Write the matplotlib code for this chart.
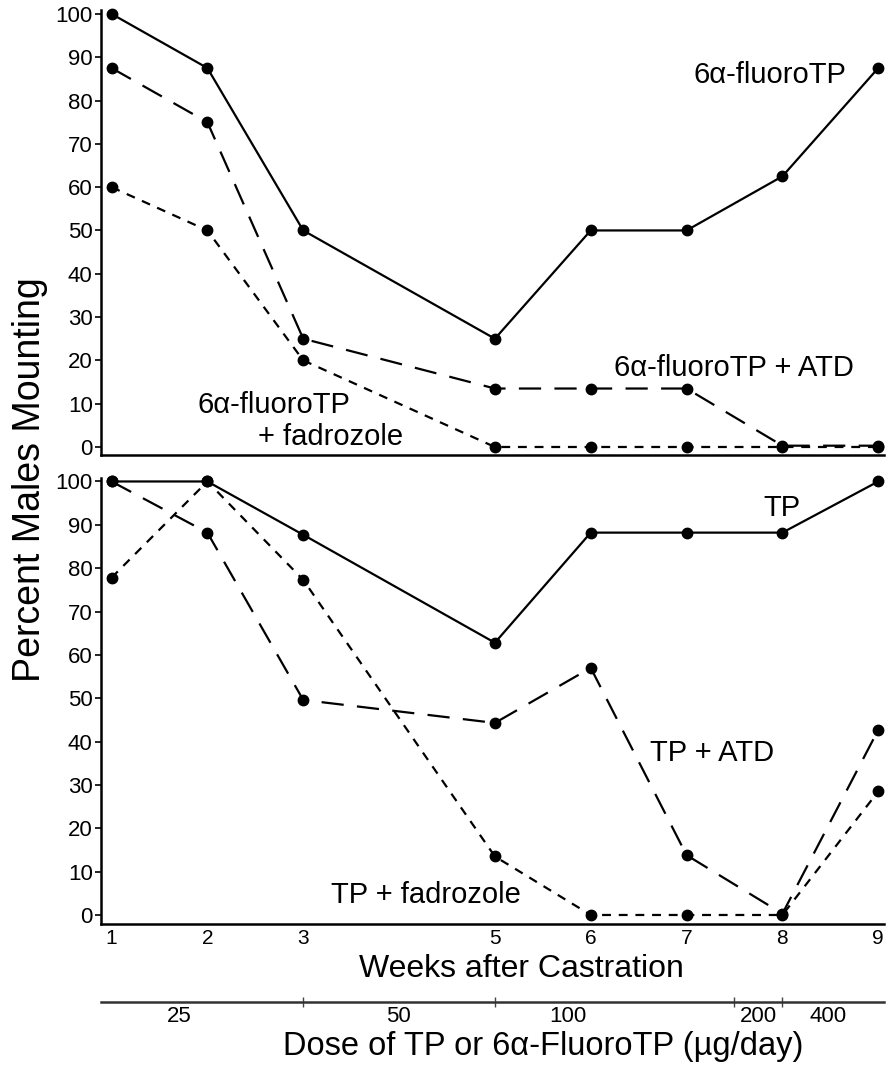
'''
plot.py redraws the mounting vs. weeks-after-castration figure
'''
import matplotlib
matplotlib.use("Agg")
from matplotlib import pyplot as plt

plt.rcParams['font.family'] = ['Liberation Sans', 'DejaVu Sans']

# weeks after castration (week 4 was not tested)
weeks = [1, 2, 3, 5, 6, 7, 8, 9]

# top panel, 6a-fluoroTP groups (% males mounting)
fluoro_tp = [100, 87.5, 50, 25, 50, 50, 62.5, 87.5]
fluoro_tp_atd = [87.5, 75, 25, 13.5, 13.5, 13.5, 0.3, 0.3]
fluoro_tp_fad = [60, 50, 20, 0, 0, 0, 0, 0]

# bottom panel, TP groups (% males mounting)
tp = [100, 100, 87.7, 62.8, 88.2, 88.2, 88.2, 100]
tp_atd = [100, 88.2, 49.6, 44.3, 57, 13.8, 0.3, 42.7]
tp_fad = [77.8, 100, 77.3, 13.5, 0, 0, 0, 28.5]

yticks = [0, 10, 20, 30, 40, 50, 60, 70, 80, 90, 100]

# dose schedule shown under the week axis
dose_bounds = [3, 5, 7.5, 8]
dose_label_pos = [1.71, 3.99, 5.76, 7.75, 8.48]
dose_labels = ['25', '50', '100', '200', '400']

W, H = 887, 1070
XLIM = (0.89, 9.06)
LONG = (10, 6)
SHORT = (4, 3.5)
TICK_SIZE = 16
NOTE_SIZE = 21


def style_panel(ax, ylim):
    """
    Spines, limits and y ticks shared by both panels.
    """
    ax.set_xlim(*XLIM)
    ax.set_ylim(*ylim)
    for side in ['top', 'right']:
        ax.spines[side].set_visible(False)
    for side in ['left', 'bottom']:
        ax.spines[side].set_linewidth(1.8)
    ax.set_yticks(yticks)
    ax.tick_params(axis='y', direction='out', length=4, width=1.2,
                   pad=2, labelsize=TICK_SIZE)
    ax.set_facecolor('none')


def draw_series(ax, values, dashes=None):
    """ one group: black line with filled dots """
    line, = ax.plot(weeks, values, color='black', lw=1.6,
                    marker='o', markersize=7.5, markerfacecolor='black',
                    markeredgecolor='black', clip_on=False, zorder=3)
    if dashes is not None:
        line.set_dashes(dashes)
    return line


def note(ax, x, y, text):
    """ group name written next to its line """
    ax.text(x, y, text, fontsize=NOTE_SIZE, ha='center', va='center')


fig = plt.figure(figsize=(W / 100, H / 100), dpi=100)

left = 101 / W
width = (884 - 101) / W

# top panel
ax1 = fig.add_axes([left, 1 - 455 / H, width, (455 - 10) / H])
style_panel(ax1, (-1.85, 100.9))
ax1.set_xticks([])
draw_series(ax1, fluoro_tp)
draw_series(ax1, fluoro_tp_atd, LONG)
draw_series(ax1, fluoro_tp_fad, SHORT)
note(ax1, 7.87, 85.9, '6α-fluoroTP')
note(ax1, 7.49, 18.2, '6α-fluoroTP + ATD')
note(ax1, 2.69, 9.7, '6α-fluoroTP')
note(ax1, 3.29, 2.3, '+ fadrozole')

# bottom panel
ax2 = fig.add_axes([left, 1 - 924 / H, width, (924 - 478) / H])
style_panel(ax2, (-2.08, 100.8))
ax2.set_xticks(weeks)
ax2.set_xticklabels([str(w) for w in weeks])
ax2.tick_params(axis='x', length=0, pad=3.5, labelsize=15)
draw_series(ax2, tp)
draw_series(ax2, tp_atd, LONG)
draw_series(ax2, tp_fad, SHORT)
note(ax2, 7.99, 93.8, 'TP')
note(ax2, 7.27, 37.3, 'TP + ATD')
note(ax2, 4.28, 4.6, 'TP + fadrozole')

# dose axis: a bare line with the dose steps
ax3 = fig.add_axes([left, 1 - 1002 / H, width, 0.0001])
ax3.set_xlim(*XLIM)
for side in ['top', 'right', 'left']:
    ax3.spines[side].set_visible(False)
ax3.spines['bottom'].set_linewidth(1.8)
ax3.spines['bottom'].set_color('#333333')
ax3.set_yticks([])
ax3.set_xticks(dose_bounds)
ax3.set_xticklabels([''] * len(dose_bounds))
ax3.tick_params(axis='x', which='major', direction='inout', length=7,
                width=1, color='#444444')
ax3.set_xticks(dose_label_pos, dose_labels, minor=True)
ax3.tick_params(axis='x', which='minor', length=0, pad=3,
                labelsize=TICK_SIZE)
ax3.set_facecolor('none')

# axis titles
fig.text(30 / W, 1 - 480 / H, 'Percent Males Mounting', fontsize=27,
         rotation=90, ha='center', va='center')
fig.text(521 / W, 1 - 969 / H, 'Weeks after Castration', fontsize=23,
         ha='center', va='center')
fig.text(543 / W, 1 - 1046 / H, 'Dose of TP or 6α-FluoroTP (µg/day)',
         fontsize=23.5, ha='center', va='center')

fig.savefig('out.png', dpi=100, facecolor='white')
